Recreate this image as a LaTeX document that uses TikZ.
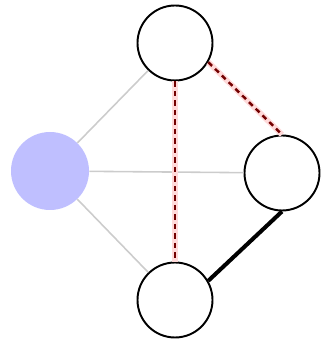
\documentclass[tikz,border=0pt]{standalone}
\usepackage{tikz}
\usetikzlibrary{calc,positioning}
\usepackage{xcolor}

\begin{document}
\begin{tikzpicture}[>=stealth,
    vertex/.style={circle, draw=black, line width=1.1pt, fill=white, minimum size=1.5cm, inner sep=0pt},
    seed/.style={circle, fill=blue!25, minimum size=1.56cm, inner sep=0pt},
    faint/.style={gray!40, line width=0.9pt},
    halo/.style={red!15, line width=3.2pt},
    cut/.style={red!45!black, dash pattern=on 3pt off 2.4pt, line width=1.4pt},
    heavy/.style={black, line width=2.3pt}]
    \useasboundingbox (0,0) rectangle (6.48,6.82);

    % Vertices
    \node[seed]   (s) at (1.00, 3.40) {};
    \node[vertex] (t) at (3.50, 5.96) {};
    \node[vertex] (r) at (5.64, 3.36) {};
    \node[vertex] (b) at (3.50, 0.82) {};

    % Edges from the seed
    \draw[faint] (s) -- (t);
    \draw[faint] (s) -- (r);
    \draw[faint] (s) -- (b);

    % Dashed edges
    \draw[halo] (t) -- (b);
    \draw[halo] (t.-30) -- (r.north);
    \draw[cut] (t) -- (b);
    \draw[cut] (t.-30) -- (r.north);

    % Heavy edge
    \draw[heavy] (r.south) -- (b.30);
\end{tikzpicture}
\end{document}
